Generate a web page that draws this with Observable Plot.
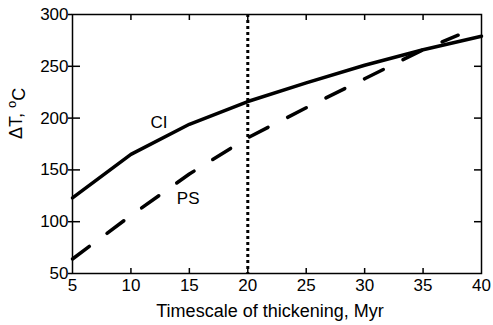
<!DOCTYPE html>
<html>
<head>
<meta charset="utf-8">
<script src="https://cdn.jsdelivr.net/npm/d3@7"></script>
<script src="https://cdn.jsdelivr.net/npm/@observablehq/plot@0.6"></script>
<style>
  body { margin: 0; background: #fff; }
  svg { font-family: "Liberation Sans", Arial, Helvetica, sans-serif; }
</style>
</head>
<body>
<div id="chart"></div>
<script>
// Temperature rise versus timescale of crustal thickening
const timescale = [5, 10, 15, 20, 25, 30, 35, 40];
const ciDeltaT = [123, 165, 194, 216, 234, 251, 266, 279];
const psTimescale = [5, 10, 15, 20, 25, 30, 35, 38];
const psDeltaT = [64, 106, 146, 181, 210, 238, 266, 280];
const referenceTimescale = [20];
const xTicks = [5, 10, 15, 20, 25, 30, 35, 40];
const yTicks = [50, 100, 150, 200, 250, 300];
const curveNames = ["CI", "PS"];
const curveLabelX = [12.4, 14.9];
const curveLabelY = [196, 122];
const xTitle = "Timescale of thickening, Myr";
const yTitle = "ΔT, °C";

const ci = timescale.map((t, i) => ({t, dT: ciDeltaT[i]}));
const ps = psTimescale.map((t, i) => ({t, dT: psDeltaT[i]}));
const labels = curveNames.map((name, i) => ({name, t: curveLabelX[i], dT: curveLabelY[i]}));
const innerX = xTicks.slice(1, -1);
const innerY = yTicks.slice(1, -1);
const blank = () => "";

const chart = Plot.plot({
  width: 493,
  height: 325,
  marginLeft: 72,
  marginRight: 12,
  marginTop: 14,
  marginBottom: 52,
  style: {fontSize: "17px", color: "black", background: "white"},
  x: {domain: [5, 40]},
  y: {domain: [50, 300]},
  marks: [
    Plot.ruleX(referenceTimescale, {stroke: "black", strokeWidth: 3, strokeDasharray: "3,3"}),
    Plot.line(ci, {x: "t", y: "dT", stroke: "black", strokeWidth: 3.5}),
    Plot.line(ps, {x: "t", y: "dT", stroke: "black", strokeWidth: 3.5, strokeDasharray: "21,22"}),
    Plot.frame({stroke: "black", strokeWidth: 1.5}),
    // tick labels and short outward stubs on the left
    Plot.axisY(yTicks, {anchor: "left", tickSize: 4, tickPadding: 0, strokeWidth: 1.5, label: null, fontSize: 17}),
    Plot.axisX(xTicks, {anchor: "bottom", tickSize: 0, tickPadding: 5, label: null, fontSize: 17}),
    // inward ticks on all four sides (shifted into the frame)
    Plot.axisY(innerY, {anchor: "left", tickSize: 8, dx: 8, strokeWidth: 1.5, tickFormat: blank, label: null}),
    Plot.axisY(innerY, {anchor: "right", tickSize: 8, dx: -8, strokeWidth: 1.5, tickFormat: blank, label: null}),
    Plot.axisX(innerX, {anchor: "bottom", tickSize: 5, dy: -5, strokeWidth: 1.5, tickFormat: blank, label: null}),
    Plot.axisX(innerX, {anchor: "top", tickSize: 5, dy: 5, strokeWidth: 1.5, tickFormat: blank, label: null}),
    Plot.text(labels, {x: "t", y: "dT", text: "name", fontSize: 17}),
    Plot.text([xTitle], {text: d => d, frameAnchor: "bottom", lineAnchor: "bottom", dy: 43, dx: -7, fontSize: 18}),
    Plot.text([yTitle], {text: d => d, frameAnchor: "left", rotate: -90, lineAnchor: "middle", dx: -56, dy: -5, fontSize: 18})
  ]
});

// render the degree mark as a raised small "o"
d3.select(chart).selectAll("text").filter(function () { return this.textContent === yTitle; })
  .each(function () {
    const t = d3.select(this);
    t.text(null);
    t.append("tspan").text("ΔT, ");
    t.append("tspan").attr("dy", "-0.45em").attr("font-size", "0.72em").text("o");
    t.append("tspan").attr("dy", "0.45em").text("C");
  });

document.getElementById("chart").appendChild(chart);
</script>
</body>
</html>
